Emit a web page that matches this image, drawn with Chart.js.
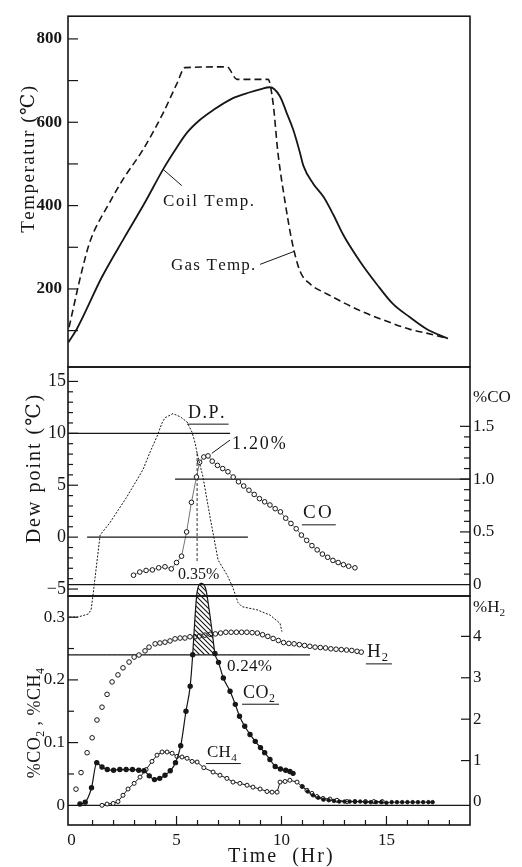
<!doctype html>
<html>
  <head>
    <title>Coil Annealing Record</title>
    <script src="https://cdn.jsdelivr.net/npm/chart.js"></script>
    <style>
      body {
        margin: 0;
        background: #fff;
      }
      #wrap {
        position: relative;
        width: 522px;
        height: 867px;
      }
      canvas {
        position: absolute;
        left: 0;
        top: 0;
      }
    </style>
  </head>
  <body>
    <div id="wrap">
      <canvas id="cTemp" width="522" height="867"></canvas>
      <canvas id="cDew" width="522" height="867"></canvas>
      <canvas id="cGas" width="522" height="867"></canvas>
    </div>

    <script>
      // ---- data: [hour, value] ----
      const coilTemp = [[-0.15,72],[0.25,104],[1.44,228],[2.5,322],[3.5,408],[4.36,487],[5.02,540],[5.5,575],[6.12,606],[6.74,629],[7.69,658],[8.5,672],[8.98,679],[9.45,684],[9.93,662],[10.25,622],[10.56,582],[10.88,527],[11.04,496],[11.52,452],[12.0,421],[12.47,378],[12.94,330],[13.74,266],[14.53,212],[15.31,164],[16.12,132],[16.91,104],[17.93,81]];
      const gasTemp = [[-0.12,108],[0.49,243],[0.88,314],[1.83,409],[2.45,463],[3.4,534],[4.36,622],[5.02,693],[5.4,731],[7.4,733],[7.88,703],[9.36,703],[9.6,646],[9.83,527],[10.17,409],[10.5,314],[10.88,243],[11.36,212],[12.17,188],[13.74,148],[15.31,117],[16.12,103],[16.91,94],[17.93,81]];
      const coilLeader = [[4.36,487],[5.25,448]];
      const gasLeader = [[8.98,259],[10.6,290]];

      const dewPoint = [[-0.1,-7.7],[0.3,-7.7],[0.8,-7.4],[0.93,-7.0],[1.02,-5.6],[1.36,0.2],[1.83,1.4],[2.64,3.9],[3.4,6.5],[3.74,8.2],[4.07,9.7],[4.31,11.0],[4.45,11.5],[4.83,11.9],[5.17,11.6],[5.5,11.1],[5.74,10.1],[5.88,9.1],[5.98,8.1],[6.26,5.8],[6.6,1.9],[6.98,-2.2],[7.45,-3.8],[7.69,-4.9],[7.93,-6.3],[8.12,-6.7],[8.83,-7.0],[9.45,-7.5],[9.93,-8.3],[10.02,-9.1]];
      const coPct = [[2.95,0.09],[3.25,0.12],[3.55,0.135],[3.85,0.14],[4.15,0.16],[4.45,0.17],[4.75,0.15],[5.0,0.21],[5.24,0.27],[5.48,0.5],[5.71,0.78],[5.95,1.02],[6.1,1.16],[6.3,1.21],[6.5,1.22],[6.7,1.17],[6.95,1.13],[7.2,1.1],[7.45,1.07],[7.7,1.02],[7.95,0.975],[8.2,0.935],[8.45,0.895],[8.7,0.855],[8.95,0.815],[9.2,0.785],[9.45,0.755],[9.7,0.72],[9.95,0.69],[10.2,0.63],[10.45,0.58],[10.7,0.53],[10.95,0.47],[11.2,0.42],[11.45,0.37],[11.7,0.33],[11.95,0.29],[12.2,0.26],[12.45,0.23],[12.7,0.21],[12.95,0.19],[13.2,0.175],[13.5,0.16]];
      const dewMarker = [[5.98,8.1],[5.98,-2.5]];
      const coLeader = [[6.68,1.244],[7.55,1.37]];
      const dew10Line = [[-0.17,10],[7.55,10]];
      const dew0Line = [[0.74,0],[8.4,0]];
      const co1Line = [[4.93,1],[18.98,1]];
      const co0Line = [[-0.17,0],[18.98,0]];

      const co2Pct = [[0.4,0.002],[0.65,0.005],[0.95,0.028],[1.2,0.068],[1.45,0.061],[1.7,0.057],[2.0,0.056],[2.3,0.057],[2.6,0.057],[2.9,0.057],[3.2,0.056],[3.45,0.055],[3.7,0.047],[3.95,0.041],[4.2,0.043],[4.45,0.048],[4.7,0.055],[4.95,0.068],[5.2,0.095],[5.45,0.15],[5.65,0.19],[5.77,0.24],[5.88,0.3],[5.98,0.34],[6.2,0.354],[6.4,0.344],[6.55,0.313],[6.7,0.276],[6.83,0.242],[7.0,0.228],[7.23,0.203],[7.55,0.182],[7.8,0.161],[8.0,0.142],[8.25,0.126],[8.5,0.113],[8.75,0.102],[9.0,0.092],[9.2,0.084],[9.45,0.073],[9.7,0.062],[9.95,0.058],[10.2,0.056],[10.4,0.054],[10.55,0.051]];
      const co2Tail = [[11.0,0.03],[11.25,0.022],[11.5,0.016],[11.75,0.012],[12.0,0.009],[12.25,0.008],[12.5,0.007],[12.75,0.006],[13.0,0.006],[13.25,0.006],[13.5,0.006],[13.75,0.006],[14.0,0.005],[14.25,0.005],[14.5,0.005],[14.75,0.005],[15.0,0.004],[15.25,0.005],[15.5,0.005],[15.75,0.005],[16.0,0.005],[16.25,0.005],[16.5,0.005],[16.75,0.005],[17.0,0.005],[17.2,0.005]];
      const ch4Pct = [[1.45,0.0],[1.69,0.002],[1.98,0.003],[2.21,0.006],[2.45,0.016],[2.69,0.026],[2.98,0.035],[3.26,0.045],[3.55,0.057],[3.83,0.07],[4.07,0.08],[4.31,0.085],[4.55,0.085],[4.79,0.083],[5.02,0.078],[5.26,0.077],[5.5,0.075],[5.74,0.07],[5.98,0.069],[6.3,0.06],[6.74,0.053],[7.07,0.048],[7.4,0.043],[7.69,0.037],[8.02,0.035],[8.36,0.032],[8.64,0.029],[8.98,0.026],[9.31,0.022],[9.55,0.021],[9.79,0.021],[9.93,0.037],[10.17,0.038],[10.4,0.04],[10.74,0.037],[10.98,0.03],[11.21,0.024],[11.45,0.019],[11.69,0.014],[11.98,0.011],[12.31,0.01],[12.64,0.008],[13.12,0.006],[13.5,0.006],[14.0,0.006],[14.4,0.006],[14.8,0.006]];
      const h2Pct = [[0.21,0.31],[0.45,0.71],[0.74,1.19],[0.98,1.55],[1.21,1.98],[1.45,2.29],[1.69,2.6],[1.93,2.9],[2.21,3.07],[2.45,3.24],[2.74,3.38],[2.98,3.5],[3.21,3.55],[3.5,3.65],[3.69,3.74],[3.98,3.82],[4.21,3.84],[4.45,3.86],[4.69,3.89],[4.93,3.94],[5.17,3.96],[5.4,3.96],[5.64,3.99],[5.88,3.99],[6.1,4.01],[6.35,4.03],[6.6,4.05],[6.85,4.06],[7.1,4.08],[7.35,4.1],[7.6,4.1],[7.85,4.1],[8.1,4.1],[8.35,4.1],[8.6,4.09],[8.85,4.08],[9.1,4.04],[9.35,4.0],[9.6,3.95],[9.85,3.9],[10.1,3.85],[10.35,3.83],[10.6,3.82],[10.85,3.8],[11.1,3.78],[11.35,3.76],[11.6,3.74],[11.85,3.73],[12.1,3.72],[12.35,3.7],[12.6,3.69],[12.85,3.68],[13.1,3.67],[13.35,3.66],[13.6,3.64],[13.8,3.62]];
      const co2RefLine = [[-0.17,0.24],[11.36,0.24]];
      const zeroLine = [[-0.17,0],[18.98,0]];

      // ---- ticks and tick labels ----
      const hourTicks = [0,1,2,3,4,5,6,7,8,9,10,11,12,13,14,15,16,17,18];
      const hourLabels = [[0,'0'],[5,'5'],[10,'10'],[15,'15']];
      const tempTicks = [100,200,300,400,500,600,700,800];
      const tempLabels = [[200,'200'],[400,'400'],[600,'600'],[800,'800']];
      const dewTicks = [-5,-4,-3,-2,-1,0,1,2,3,4,5,6,7,8,9,10,11,12,13,14,15];
      const dewLabels = [[-5,'\u22125'],[0,'0'],[5,'5'],[10,'10'],[15,'15']];
      const coTicks = [0,0.1,0.2,0.3,0.4,0.5,0.6,0.7,0.8,0.9,1,1.1,1.2,1.3,1.4,1.5];
      const coLabels = [[0,'0'],[0.5,'0.5'],[1,'1.0'],[1.5,'1.5']];
      const co2Ticks = [0,0.05,0.1,0.15,0.2,0.25,0.3];
      const co2Labels = [[0,'0'],[0.1,'0.1'],[0.2,'0.2'],[0.3,'0.3']];
      const h2Ticks = [0,1,2,3,4];
      const h2Labels = [[0,'0'],[1,'1'],[2,'2'],[3,'3'],[4,'4']];

      const xMin = -0.17, xMax = 18.98;
      const ink = '#161616';
      const serif = "'Liberation Serif', 'DejaVu Serif', serif";

      Chart.defaults.font.family = serif;
      Chart.defaults.font.size = 17;
      Chart.defaults.color = ink;
      Chart.defaults.animation = false;
      Chart.defaults.events = [];
      Chart.defaults.plugins.legend.display = false;
      Chart.defaults.plugins.tooltip.enabled = false;
      if (Chart.defaults.plugins.colors) Chart.defaults.plugins.colors.enabled = false;
      Chart.defaults.elements.line.borderColor = ink;
      Chart.defaults.elements.point.borderColor = ink;
      Chart.defaults.elements.point.backgroundColor = ink;
      Chart.defaults.elements.point.radius = 0;

      const toXY = (arr) => arr.map((p) => ({ x: p[0], y: p[1] }));
      const near = (a, b) => Math.abs(a - b) < 1e-9;
      const labelFrom = (pairs) => (v) => {
        const f = pairs.find((p) => near(p[0], v));
        return f ? f[1] : '';
      };

      function yAxis(pos, min, max, ticks, labels, width, pad, font) {
        return {
          type: 'linear',
          position: pos,
          min: min,
          max: max,
          grid: { display: false, drawTicks: false },
          border: { display: false },
          afterBuildTicks: (s) => { s.ticks = ticks.map((v) => ({ value: v })); },
          afterFit: (s) => { s.width = width; },
          ticks: { autoSkip: false, padding: pad, font: font, callback: labelFrom(labels) },
        };
      }
      const hiddenX = { type: 'linear', min: xMin, max: xMax, display: false };

      function line(data, opts) {
        return Object.assign(
          { data: toXY(data), borderColor: ink, backgroundColor: ink, borderWidth: 1.2, pointRadius: 0, fill: false },
          opts,
        );
      }

      // text with "_x" subscripts
      function rich(ctx, str, x, y, size, sp, draw) {
        let cx = x;
        for (let i = 0; i < str.length; i++) {
          let ch = str[i];
          let sub = false;
          if (ch === '_') { sub = true; ch = str[++i]; }
          const fs = sub ? size * 0.66 : size;
          ctx.font = fs + 'px ' + serif;
          if (draw) ctx.fillText(ch, cx, sub ? y + size * 0.3 : y);
          cx += ctx.measureText(ch).width + sp;
        }
        return cx - x - sp;
      }

      // frame, inward tick marks and annotations
      const panelPlugin = {
        id: 'panel',
        afterDraw(chart, args, o) {
          const { ctx, chartArea: a, scales } = chart;
          ctx.save();
          ctx.strokeStyle = ink;
          ctx.fillStyle = ink;
          const top = o.frameTop == null ? a.top : scales.y.getPixelForValue(o.frameTop);
          ctx.lineWidth = 1.6;
          ctx.strokeRect(a.left, top, a.right - a.left, a.bottom - top);

          ctx.lineWidth = 1.2;
          (o.marks || []).forEach((m) => {
            const s = scales[m.axis];
            s.ticks.forEach((t) => {
              if ((m.skip || []).some((v) => near(v, t.value))) return;
              const len = m.major.some((v) => near(v, t.value)) ? m.long : m.short;
              const p = s.getPixelForValue(t.value);
              ctx.beginPath();
              if (m.axis === 'x') {
                ctx.moveTo(p, a.bottom);
                ctx.lineTo(p, a.bottom - len);
              } else if (s.position === 'left') {
                ctx.moveTo(a.left, p);
                ctx.lineTo(a.left + len, p);
              } else {
                ctx.moveTo(a.right, p);
                ctx.lineTo(a.right - len, p);
              }
              ctx.stroke();
            });
          });

          ctx.textBaseline = 'middle';
          ctx.textAlign = 'left';
          (o.notes || []).forEach((n) => {
            const px = n.px != null ? n.px : scales.x.getPixelForValue(n.x);
            const py = n.py != null ? n.py : scales[n.axis || 'y'].getPixelForValue(n.y);
            const sp = n.sp || 0;
            if (n.rot) {
              ctx.save();
              ctx.translate(px, py);
              ctx.rotate(-Math.PI / 2);
              const w = rich(ctx, n.t, 0, 0, n.size, sp, false);
              rich(ctx, n.t, -w / 2, 0, n.size, sp, true);
              ctx.restore();
              return;
            }
            const w = rich(ctx, n.t, px, py, n.size, sp, true);
            if (n.ul) {
              ctx.lineWidth = 1;
              ctx.beginPath();
              ctx.moveTo(px - 1, py + n.size * 0.62);
              ctx.lineTo(px + w + 4, py + n.size * 0.62);
              ctx.stroke();
            }
          });
          ctx.restore();
        },
      };

      // ---------- temperature panel ----------
      new Chart(document.getElementById('cTemp'), {
        type: 'line',
        data: {
          datasets: [
            line(coilTemp, { borderWidth: 1.8, cubicInterpolationMode: 'monotone' }),
            line(gasTemp, { borderWidth: 1.6, borderDash: [7, 4], cubicInterpolationMode: 'monotone' }),
            line(coilLeader, { borderWidth: 1 }),
            line(gasLeader, { borderWidth: 1 }),
          ],
        },
        options: {
          responsive: false,
          layout: { padding: { left: 0, right: 52, top: 12, bottom: 500 } },
          scales: {
            x: hiddenX,
            y: yAxis('left', 12.7, 854.5, tempTicks, tempLabels, 68, 6, { size: 17, weight: 'bold' }),
          },
          plugins: {
            panel: {
              marks: [{ axis: 'y', major: tempTicks, long: 10, short: 10 }],
              notes: [
                { t: 'Coil Temp.', x: 4.36, y: 409, size: 17, sp: 1.5 },
                { t: 'Gas Temp.', x: 4.74, y: 255, size: 17, sp: 1.2 },
                { t: 'Temperatur (\u2103)', px: 29, y: 511, size: 19, sp: 1.5, rot: true },
              ],
            },
          },
        },
        plugins: [panelPlugin],
      });

      // ---------- dew point / CO panel ----------
      new Chart(document.getElementById('cDew'), {
        type: 'line',
        data: {
          datasets: [
            line(dewPoint, { borderWidth: 1, borderDash: [2, 1.5], clip: false }),
            line(coPct, {
              yAxisID: 'yr', borderWidth: 0.6, pointRadius: 2.3, pointBorderWidth: 1,
              pointBackgroundColor: '#fff',
            }),
            line(dewMarker, { borderWidth: 0.9, borderDash: [3, 2] }),
            line(coLeader, { yAxisID: 'yr', borderWidth: 1 }),
            line(dew10Line, { borderWidth: 1.3 }),
            line(dew0Line, { borderWidth: 1.3 }),
            line(co1Line, { yAxisID: 'yr', borderWidth: 1.3 }),
            line(co0Line, { yAxisID: 'yr', borderWidth: 1.3 }),
          ],
        },
        options: {
          responsive: false,
          layout: { padding: { left: 0, right: 0, top: 367, bottom: 271 } },
          scales: {
            x: hiddenX,
            y: yAxis('left', -5.67, 16.39, dewTicks, dewLabels, 68, 2, { size: 18 }),
            yr: yAxis('right', -0.107, 2.062, coTicks, coLabels, 52, 3),
          },
          plugins: {
            panel: {
              marks: [
                { axis: 'y', major: [-5, 0, 5, 10, 15], long: 10, short: 5 },
                { axis: 'yr', major: [0, 0.5, 1, 1.5], long: 10, short: 6, skip: [0] },
              ],
              notes: [
                { t: 'D.P.', x: 5.55, y: 11.96, size: 18, sp: 1.5, ul: true },
                { t: '1.20%', x: 7.64, y: 8.97, size: 18, sp: 1.8 },
                { t: 'CO', x: 11.02, y: 2.32, size: 19, sp: 2.5, ul: true },
                { t: '0.35%', x: 5.07, y: -3.65, size: 16, sp: 0 },
                { t: '%CO', px: 473, y: 1.77, axis: 'yr', size: 17, sp: 0 },
                { t: 'Dew point (\u2103)', px: 35, y: 6.56, size: 20, sp: 2, rot: true },
              ],
            },
          },
        },
        plugins: [panelPlugin],
      });

      // ---------- CO2 / CH4 / H2 panel ----------
      const gasCanvas = document.getElementById('cGas');
      const tile = document.createElement('canvas');
      tile.width = tile.height = 5;
      const tg = tile.getContext('2d');
      tg.strokeStyle = ink;
      tg.lineWidth = 1.1;
      tg.beginPath();
      tg.moveTo(0, 0); tg.lineTo(5, 5);
      tg.moveTo(-1, 4); tg.lineTo(1, 6);
      tg.moveTo(4, -1); tg.lineTo(6, 1);
      tg.stroke();
      const hatch = gasCanvas.getContext('2d').createPattern(tile, 'repeat');

      new Chart(gasCanvas, {
        type: 'line',
        data: {
          datasets: [
            line(co2Pct, {
              borderWidth: 1.2, cubicInterpolationMode: 'monotone',
              pointRadius: (c) => (c.raw && c.raw.y > 0.245 ? 0 : 2.1),
              fill: { target: { value: 0.24 }, above: hatch, below: 'rgba(0,0,0,0)' },
            }),
            line(co2Tail, { borderWidth: 0.8, pointRadius: 1.8 }),
            line(ch4Pct, { borderWidth: 1, pointRadius: 2, pointBorderWidth: 1, pointBackgroundColor: '#fff' }),
            line(h2Pct, {
              yAxisID: 'yr', showLine: false, pointRadius: 2.3, pointBorderWidth: 1,
              pointBackgroundColor: '#fff',
            }),
            line(co2RefLine, { borderWidth: 1.3 }),
            line(zeroLine, { borderWidth: 1.3 }),
          ],
        },
        options: {
          responsive: false,
          layout: { padding: { left: 0, right: 0, top: 578, bottom: 0 } },
          scales: {
            x: {
              type: 'linear',
              position: 'bottom',
              min: xMin,
              max: xMax,
              grid: { display: false, drawTicks: false },
              border: { display: false },
              afterBuildTicks: (s) => { s.ticks = hourTicks.map((v) => ({ value: v })); },
              afterFit: (s) => { s.height = 42; },
              ticks: { autoSkip: false, maxRotation: 0, padding: 5, callback: labelFrom(hourLabels) },
            },
            y: yAxis('left', -0.0314, 0.3625, co2Ticks, co2Labels, 68, 3),
            yr: yAxis('right', -0.556, 5.41, h2Ticks, h2Labels, 52, 3),
          },
          plugins: {
            panel: {
              frameTop: 0.3338,
              marks: [
                { axis: 'x', major: [5, 10, 15], long: 9, short: 5, skip: [0] },
                { axis: 'y', major: [0.1, 0.2, 0.3], long: 10, short: 6, skip: [0] },
                { axis: 'yr', major: h2Ticks, long: 9, short: 9, skip: [0] },
              ],
              notes: [
                { t: '0.24%', x: 7.4, y: 0.2206, size: 17, sp: 0.3 },
                { t: 'CO_2', x: 8.17, y: 0.179, size: 18, sp: 0.5, ul: true },
                { t: 'CH_4', x: 6.45, y: 0.0834, size: 17, sp: 0.3, ul: true },
                { t: 'H_2', x: 14.07, y: 3.62, axis: 'yr', size: 19, sp: 1, ul: true },
                { t: '%H_2', px: 473, y: 4.69, axis: 'yr', size: 17, sp: 0 },
                { t: '%CO_2 , %CH_4', px: 35, y: 0.131, size: 18, sp: 0.5, rot: true },
                { t: 'Time  (Hr)', x: 7.45, py: 857, size: 20, sp: 2 },
              ],
            },
          },
        },
        plugins: [panelPlugin],
      });
    </script>
  </body>
</html>
